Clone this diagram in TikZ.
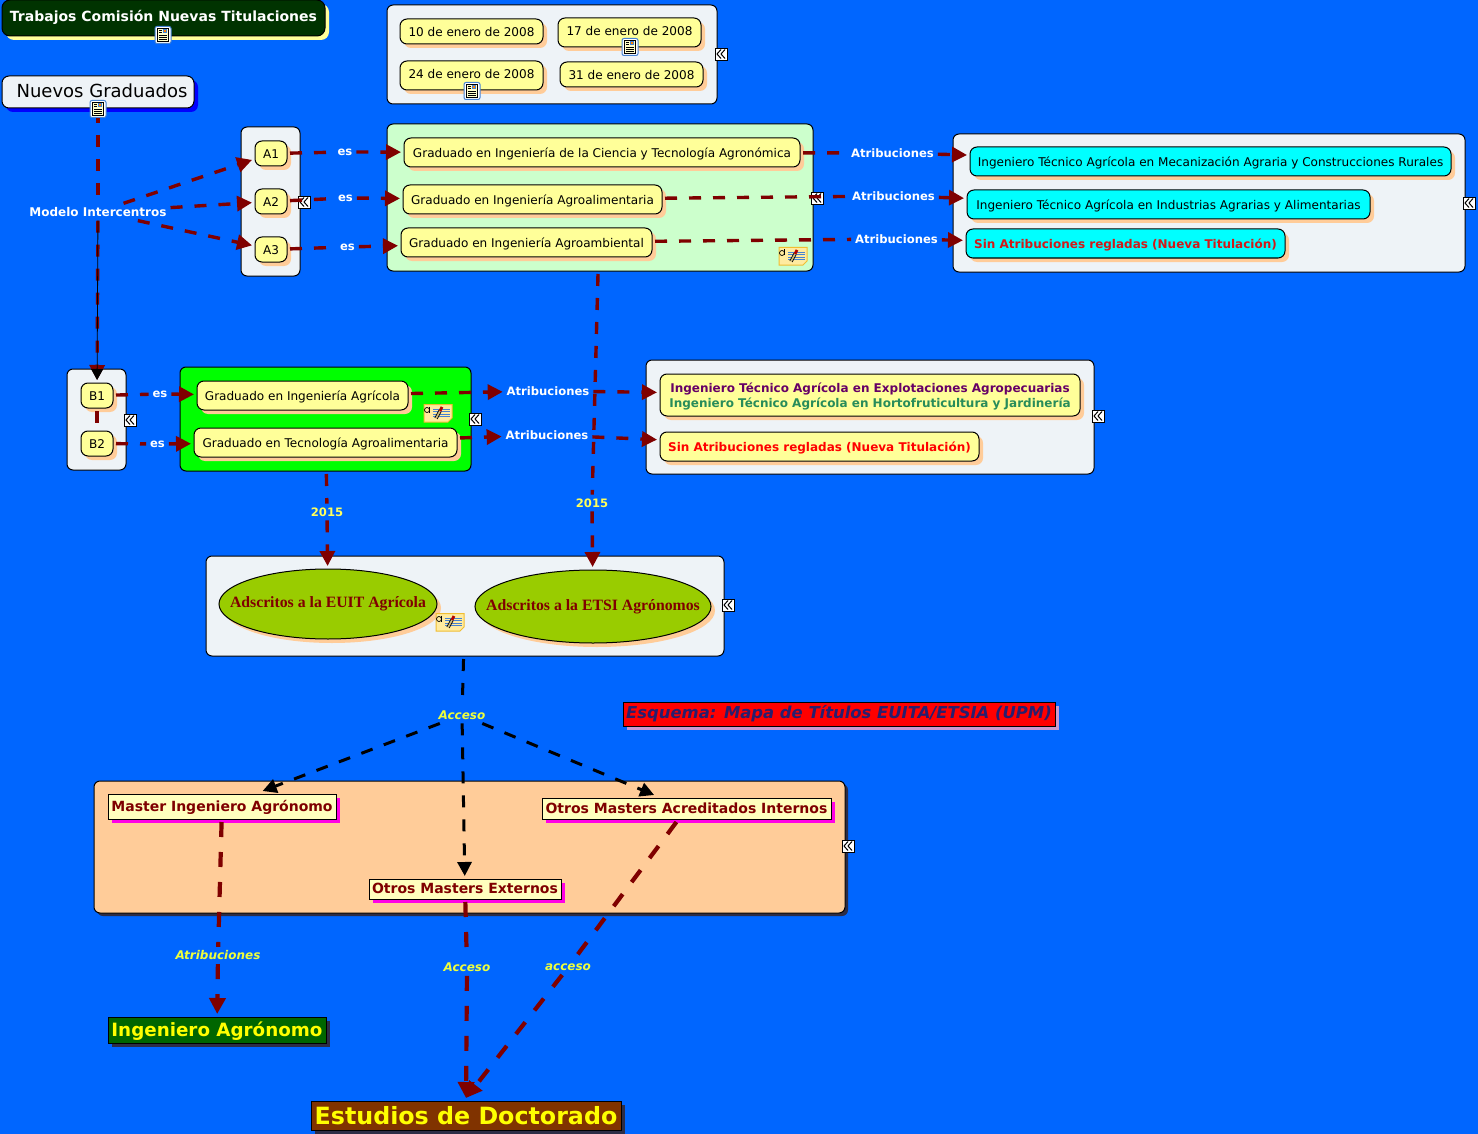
\documentclass[tikz,border=0pt]{standalone}
\usepackage{fontspec}
\setmainfont{DejaVu Sans}
\newfontfamily\adsfont{Liberation Serif}
\usetikzlibrary{arrows.meta,shapes.geometric,shadows}
\definecolor{mapblue}{RGB}{0,102,255}
\definecolor{panelgrey}{RGB}{238,243,247}
\definecolor{topicyellow}{RGB}{255,255,153}
\definecolor{masteryellow}{RGB}{255,255,190}
\definecolor{shadowpeach}{RGB}{255,204,153}
\definecolor{linkred}{RGB}{127,0,0}
\definecolor{olivegreen}{RGB}{153,204,0}
\definecolor{labelyellow}{RGB}{238,255,60}
\definecolor{pureyellow}{RGB}{255,255,0}
\definecolor{purecyan}{RGB}{0,255,255}
\definecolor{puremagenta}{RGB}{255,0,230}
\definecolor{darkshadow}{RGB}{45,45,70}
\definecolor{notefill}{RGB}{255,235,160}
\definecolor{notedraw}{RGB}{240,190,50}
\definecolor{iconblue}{RGB}{70,130,210}
\definecolor{titlepurple}{RGB}{102,0,102}
\definecolor{titlegreen}{RGB}{40,140,90}
\definecolor{titlered}{RGB}{210,25,25}
\tikzset{
  fs/.style={font=\fontsize{#1}{#1}\selectfont},
  fsb/.style={font=\fontsize{#1}{#1}\selectfont\bfseries},
  sz/.style 2 args={minimum width=#1pt, minimum height=#2pt},
  base/.style={draw=black, line width=1pt, inner sep=0pt, outer sep=3pt, align=center},
  panel/.style={base, rounded corners=6pt, fill=panelgrey},
  topic/.style={base, rounded corners=7pt, fill=topicyellow, fs=12.05, text height=11pt, text depth=1.6pt,
    general shadow={fill=shadowpeach, shadow xshift=4pt, shadow yshift=-4pt}},
  cyantopic/.style={topic, fill=purecyan},
  master/.style={base, fill=masteryellow, text=linkred, fsb=14, text height=11.5pt, text depth=2pt,
    general shadow={fill=puremagenta, shadow xshift=4pt, shadow yshift=-4pt}},
  plaque/.style={base, text=pureyellow,
    general shadow={fill=darkshadow, shadow xshift=4pt, shadow yshift=-4pt}},
  lab/.style={inner sep=1pt, outer sep=3pt, text=white, fsb=11.6},
  yearlab/.style={lab, text=topicyellow!60!pureyellow},
  itlab/.style={lab, text=labelyellow, font=\fontsize{12}{12}\selectfont\bfseries\itshape},
  adscrito/.style={ellipse, base, fill=olivegreen, text=linkred, font=\adsfont\fontsize{15.75}{18}\selectfont\bfseries,
    general shadow={fill=shadowpeach, shadow xshift=4pt, shadow yshift=-4pt}},
  link/.style={draw=linkred, line width=3.4pt, dash pattern=on 12pt off 12pt},
  tiplink/.style={link, -{Triangle[length=15pt,width=15pt]}},
  hlink/.style={draw=linkred, line width=4.2pt, dash pattern=on 15pt off 15pt},
  tiphlink/.style={hlink, -{Triangle[length=16pt,width=16pt]}},
  blink/.style={draw=black, line width=3pt, dash pattern=on 12pt off 12pt},
  tipblink/.style={blink, -{Triangle[length=14pt,width=14pt]}},
  collapse/.pic={
    \draw[black, fill=white, line width=.8pt] (-6,-6) rectangle (6,6);
    \draw[black, line width=1pt] (0,-4.5) .. controls (-1.5,-1.5) .. (-4,0) .. controls (-1.5,1.5) .. (0,4.5);
    \draw[black, line width=1pt] (4,-4.5) .. controls (2.5,-1.5) .. (0,0) .. controls (2.5,1.5) .. (4,4.5);
  },
  docicon/.pic={
    \draw[iconblue, fill=white, rounded corners=2pt, line width=1pt] (-8,-8.5) rectangle (8,8.5);
    \draw[black, fill=topicyellow!50!white, line width=.7pt] (-5.5,-6.5) rectangle (5,6.5);
    \fill[iconblue] (0,-5.5) rectangle (4,-1.5);
    \fill[orange] (1,-4.5) rectangle (2.5,-3);
    \foreach \yy in {0,2,4} \draw[black, line width=.7pt] (-4,\yy) -- (3.8,\yy);
    \draw[black, line width=.7pt] (-4,-4.5) -- (-1,-4.5) (-4,-2.5) -- (-1,-2.5);
  },
  noteicon/.pic={
    \draw[draw=notedraw, fill=notefill, line width=1pt]
      (-14,-8.5) -- (14,-8.5) -- (14,5) -- (10,9) -- (-14,9) -- cycle;
    \draw[black, line width=.7pt] (-11,-3) circle (2.5pt);
    \draw[black, line width=.7pt] (-8.5,-6.5) -- (-8.5,-.5);
    \foreach \yy in {-4,-1.5,1,3.5} \draw[iconblue, line width=.7pt] (-5,\yy) -- (12,\yy);
    \draw[notefill!80!black, line width=2.8pt] (-2,5.5) -- (2,-2);
    \draw[black, line width=.7pt] (-3.2,5) -- (.8,-2.6) (-.8,6) -- (3.2,-1.4);
    \draw[red!70!black, line width=2.8pt] (2,-2) -- (4,-6);
  }
}
\begin{document}
\begin{tikzpicture}[x=1pt, y=-1pt, line cap=butt]
  \useasboundingbox (0,0) rectangle (1478,1134);
  \fill[mapblue] (0,0) rectangle (1478,1134);

  % header nodes
  \node[base, sz={323}{36}, rounded corners=8pt, fill=green!20!black, text=white, fsb=14,
    general shadow={fill=topicyellow, shadow xshift=4pt, shadow yshift=-4pt}] (titulo) at (163.5,18) {\raisebox{5pt}{Trabajos Comisión Nuevas Titulaciones}};
  \node[base, sz={192}{32}, rounded corners=7pt, fill=panelgrey, fs=18,
    general shadow={fill=blue, shadow xshift=4pt, shadow yshift=-4pt}] (nuevos) at (98,92) {\hspace*{8pt}\raisebox{2pt}{Nuevos Graduados}};

  % panels
  \node[panel, sz={330}{99}] (fechas) at (552,54.5) {};
  \node[panel, sz={59}{149}] (pa) at (270.5,201.5) {};
  \node[panel, sz={426}{147}, fill=green!20!white] (pg) at (600,197.5) {};
  \node[panel, sz={512}{138}] (pt) at (1209,203) {};
  \node[panel, sz={59}{101}] (pb) at (96.5,419.5) {};
  \node[panel, sz={291}{104}, fill=green] (pv) at (325.5,419) {};
  \node[panel, sz={448}{114}] (pe) at (870,417) {};
  \node[panel, sz={518}{100}] (pad) at (465,606) {};
  \node[panel, sz={751}{132}, fill=shadowpeach,
    general shadow={fill=darkshadow, shadow xshift=3pt, shadow yshift=-3pt}] (pm) at (469.5,847) {};

  % dates
  \node[topic, sz={143}{25}] (f10) at (471.5,31.5) {10 de enero de 2008};
  \node[topic, sz={143}{29}] (f17) at (629.5,32.5) {\raisebox{2pt}{17 de enero de 2008}};
  \node[topic, sz={143}{29}] (f24) at (471.5,75.5) {\raisebox{2pt}{24 de enero de 2008}};
  \node[topic, sz={143}{25}] (f31) at (631.5,74.5) {31 de enero de 2008};

  % A and B
  \foreach \nm/\y in {a1/153.5,a2/201.5,a3/249.5}
    \node[topic, sz={32}{25}] (\nm) at (271,\y) {\MakeUppercase{\nm}};
  \foreach \nm/\y in {b1/395.5,b2/443.5}
    \node[topic, sz={32}{25}] (\nm) at (97,\y) {\MakeUppercase{\nm}};

  % degrees
  \node[topic, sz={396}{29}] (g1) at (602,152.5) {Graduado en Ingeniería de la Ciencia y Tecnología Agronómica};
  \node[topic, sz={259}{29}] (g2) at (532.5,199.5) {Graduado en Ingeniería Agroalimentaria};
  \node[topic, sz={251}{29}] (g3) at (526.5,242.5) {Graduado en Ingeniería Agroambiental};
  \node[topic, sz={211}{29}] (g4) at (302.5,395.5) {Graduado en Ingeniería Agrícola};
  \node[topic, sz={263}{29}] (g5) at (325.5,442.5) {Graduado en Tecnología Agroalimentaria};

  % titles
  \node[cyantopic, sz={481}{29}] (t1) at (1210.5,161.5) {Ingeniero Técnico Agrícola en Mecanización Agraria y Construcciones Rurales};
  \node[cyantopic, sz={403}{29}] (t2) at (1168.5,204.5) {Ingeniero Técnico Agrícola en Industrias Agrarias y Alimentarias};
  \node[cyantopic, sz={319}{29}, text=titlered, fsb=12] (t3) at (1125.5,243.5) {Sin Atribuciones regladas (Nueva Titulación)};
  \node[topic, sz={420}{42}, text height=26pt, text depth=2pt, font=\fontsize{12}{15}\selectfont\bfseries] (t4) at (870,395) {\textcolor{titlepurple}{Ingeniero Técnico Agrícola en Explotaciones Agropecuarias}\\\textcolor{titlegreen}{Ingeniero Técnico Agrícola en Hortofruticultura y Jardinería}};
  \node[topic, sz={319}{29}, text=red, fsb=12] (t5) at (819.5,446.5) {Sin Atribuciones regladas (Nueva Titulación)};

  % ellipses
  \node[adscrito, sz={218}{70}] (euit) at (328,604) {\makebox[140pt][c]{Adscritos a la EUIT Agrícola}};
  \node[adscrito, sz={236}{73}] (etsi) at (593,606.5) {\makebox[150pt][c]{Adscritos a la ETSI Agrónomos}};

  % masters and the rest
  \node[master, sz={228}{25}] (m1) at (222,806.5) {Master Ingeniero Agrónomo};
  \node[master, sz={289}{21}] (m2) at (686.5,808.5) {Otros Masters Acreditados Internos};
  \node[master, sz={192}{20}] (m3) at (465,889) {Otros Masters Externos};
  \node[plaque, sz={218}{26}, fill=green!40!black, fsb=18.3, text height=15pt, text depth=3pt] (ia) at (217,1030) {Ingeniero Agrónomo};
  \node[plaque, sz={310}{29}, fill={rgb,255:red,128;green,51;blue,0}, fsb=23.75] (ed) at (466,1115.5) {Estudios de Doctorado};
  \node[base, sz={432}{24}, fill=red, text={rgb,255:red,40;green,30;blue,110}, font=\fontsize{16.4}{18}\selectfont\bfseries\itshape,
    general shadow={fill=violet!40!white, shadow xshift=4pt, shadow yshift=-4pt}] (esq) at (839,714) {\raisebox{-1pt}{Esquema: Mapa de Títulos EUITA/ETSIA (UPM)}};

  % collapse marks
  \foreach \x/\y in {721/54,304/202,817/198,1469/203,130/420,475/419,1098/416,728/605,848/846}
    \pic at (\x,\y) {collapse};

  % connector labels
  \node[lab, fsb=12] (mod) at (98,212) {Modelo Intercentros};
  \node[lab] (es1) at (345,152) {es};
  \node[lab] (es2) at (345.5,198) {es};
  \node[lab] (es3) at (347.5,247) {es};
  \node[lab] (es4) at (160,394) {es};
  \node[lab] (es5) at (157.5,444) {es};
  \node[lab] (at1) at (892.5,153) {Atribuciones};
  \node[lab] (at2) at (893.5,196) {Atribuciones};
  \node[lab] (at3) at (896.5,239) {Atribuciones};
  \node[lab] (at4) at (548,391) {Atribuciones};
  \node[lab] (at5) at (547,435) {Atribuciones};
  \node[yearlab] (y1) at (327,512) {2015};
  \node[yearlab] (y2) at (592,503) {2015};
  \node[itlab] (acc) at (462,715) {Acceso};
  \node[itlab] (at6) at (218,955.5) {Atribuciones};
  \node[itlab] (acc2) at (467,967.5) {Acceso};
  \node[itlab] (acc3) at (568,967.5) {acceso};

  % connectors
  \draw[link] (nuevos) -- (mod);
  \draw[tiplink] (mod) -- (a1);
  \draw[tiplink] (mod) -- (a2);
  \draw[tiplink] (mod) -- (a3);
  \draw[tiplink] (mod) -- (b1);
  \draw[black, line width=.8pt, -{Triangle[length=11pt,width=12pt]}] (mod) -- (b1);
  \draw[link] (b1) -- (b2);
  \foreach \from/\via/\to in {a1/es1/g1,a2/es2/g2,a3/es3/g3,b1/es4/g4,b2/es5/g5,g1/at1/t1,g2/at2/t2,g3/at3/t3,pv/y1/euit,pg/y2/etsi} {
    \draw[link] (\from) -- (\via);
    \draw[tiplink] (\via) -- (\to);
  }
  \foreach \from/\via/\to in {m1/at6/ia,m3/acc2/ed.north,m2/acc3/ed.north} {
    \draw[hlink] (\from) -- (\via);
    \draw[tiphlink] (\via) -- (\to);
  }
  \draw[tiplink] (g4) -- (at4);
  \draw[tiplink] (at4) -- (t4);
  \draw[tiplink] (g5) -- (at5);
  \draw[tiplink] (at5) -- (t5);
  \draw[blink] (pad) -- (acc);
  \draw[tipblink] (acc) -- (m1);
  \draw[tipblink] (acc) -- (m2);
  \draw[tipblink] (acc) -- (m3);

  % icons on top
  \foreach \x/\y in {163/35,98/109,630/47,472/91}
    \pic at (\x,\y) {docicon};
  \foreach \x/\y in {793/256,438/413,450/622}
    \pic at (\x,\y) {noteicon};
\end{tikzpicture}
\end{document}
